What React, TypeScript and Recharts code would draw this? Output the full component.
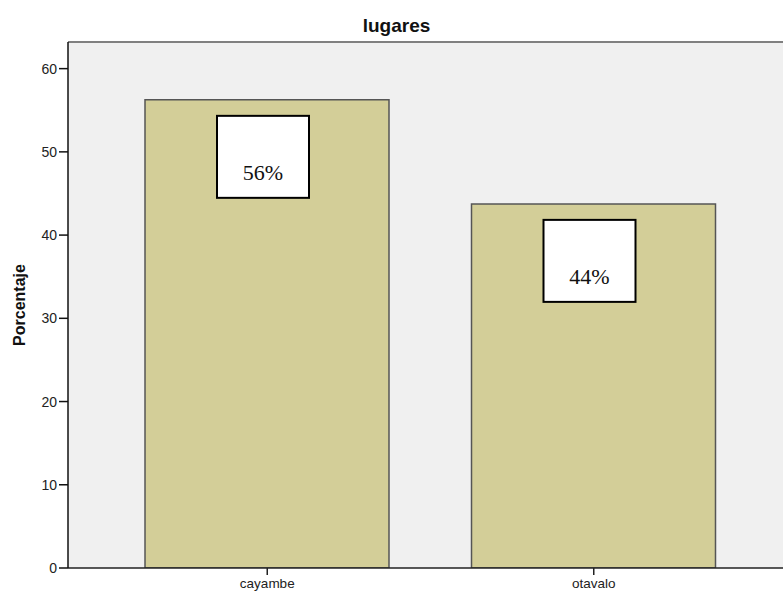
import React from "react";
import { BarChart, Bar, XAxis, YAxis, CartesianGrid, LabelList, ReferenceLine } from "recharts";

const categories = ["cayambe", "otavalo"];
const percentages = [56.25, 43.75];
const labels = ["56%", "44%"];
const yTicks = [0, 10, 20, 30, 40, 50, 60];

const data = categories.map((c, i) => ({ name: c, value: percentages[i], label: labels[i] }));

const BoxLabel = (props: any) => {
  const { x, y, value } = props;
  const bx = x + 72;
  const by = y + 16;
  return (
    <g>
      <rect x={bx} y={by} width={92} height={82} fill="#ffffff" stroke="#000" strokeWidth={2} />
      <text x={bx + 46} y={by + 64} textAnchor="middle" fontFamily="'Liberation Serif', 'Times New Roman', serif" fontSize={22} fill="#111">
        {value}
      </text>
    </g>
  );
};

export default function App() {
  return (
    <div style={{ position: "absolute", left: 0, top: 0, width: 783, height: 593, overflow: "hidden", background: "#fff" }}>
      <div
        style={{
          position: "absolute",
          left: 0,
          width: 793,
          top: 15,
          textAlign: "center",
          fontFamily: "'Liberation Sans', Arial, sans-serif",
          fontWeight: "bold",
          fontSize: 19,
          color: "#111",
          lineHeight: "22px",
        }}
      >
        lugares
      </div>
      <div
        style={{
          position: "absolute",
          left: 20,
          top: 305,
          transform: "translate(-50%, -50%) rotate(-90deg)",
          fontFamily: "'Liberation Sans', Arial, sans-serif",
          fontWeight: "bold",
          fontSize: 16,
          color: "#111",
          whiteSpace: "nowrap",
        }}
      >
        Porcentaje
      </div>
      <BarChart
        width={800}
        height={593}
        data={data}
        margin={{ top: 42, right: 7, bottom: 0, left: 0 }}
        barSize={244}
      >
        <CartesianGrid horizontal={false} vertical={false} fill="#F0F0F0" />
        <ReferenceLine y={63.2} stroke="#808080" strokeWidth={2} ifOverflow="visible" />
        <XAxis
          dataKey="name"
          height={25}
          padding={{ left: 36, right: 36 }}
          tickSize={7}
          tickMargin={3}
          tick={{ fontSize: 13.5, fill: "#222", fontFamily: "'Liberation Sans', Arial, sans-serif" }}
          axisLine={{ stroke: "#222", strokeWidth: 1.5 }}
          tickLine={{ stroke: "#222", strokeWidth: 1.5 }}
        />
        <YAxis
          width={68}
          domain={[0, 63.2]}
          ticks={yTicks}
          allowDataOverflow
          tickSize={9}
          tickMargin={2}
          tick={{ fontSize: 14, fill: "#222", fontFamily: "'Liberation Sans', Arial, sans-serif" }}
          axisLine={{ stroke: "#111", strokeWidth: 1.5 }}
          tickLine={{ stroke: "#111", strokeWidth: 1.5 }}
        />
        <Bar dataKey="value" fill="#D3CE98" stroke="#555" strokeWidth={1.5} isAnimationActive={false}>
          <LabelList dataKey="label" content={BoxLabel} />
        </Bar>
      </BarChart>
    </div>
  );
}
